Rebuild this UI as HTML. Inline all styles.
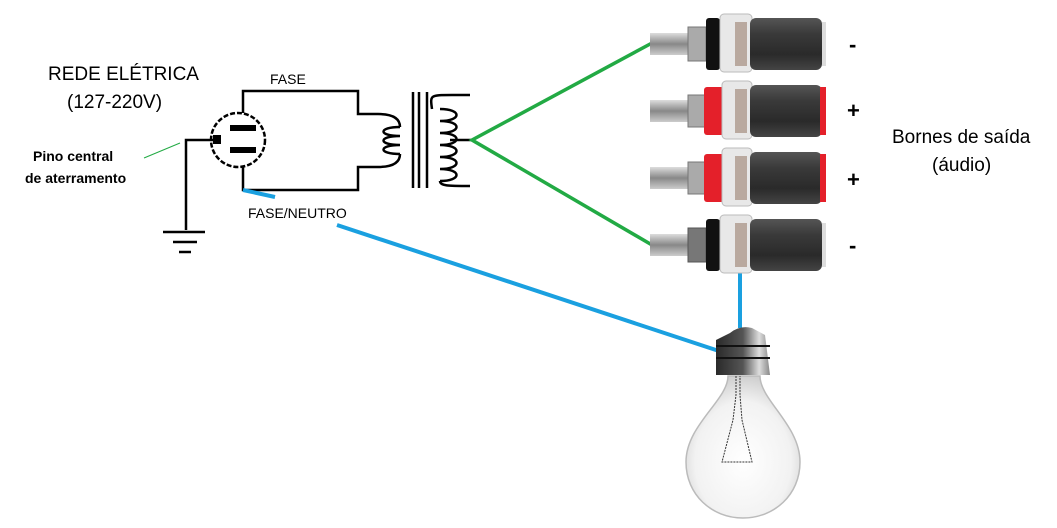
<!DOCTYPE html>
<html><head><meta charset="utf-8"><style>
html,body{margin:0;padding:0;background:#fff}
svg{display:block}
text{font-family:"Liberation Sans",sans-serif}
</style></head><body>
<svg width="1057" height="528" viewBox="0 0 1057 528" xmlns="http://www.w3.org/2000/svg">
<defs>
<linearGradient id="cap" x1="0" y1="0" x2="0" y2="1">
<stop offset="0" stop-color="#555"/><stop offset="0.3" stop-color="#3a3a3a"/><stop offset="0.7" stop-color="#2a2a2a"/><stop offset="1" stop-color="#444"/></linearGradient>
<linearGradient id="metal" x1="0" y1="0" x2="0" y2="1">
<stop offset="0" stop-color="#ddd"/><stop offset="0.5" stop-color="#888"/><stop offset="1" stop-color="#ccc"/></linearGradient>
<linearGradient id="base" x1="0" y1="0" x2="1" y2="0">
<stop offset="0" stop-color="#2a2a2a"/><stop offset="0.5" stop-color="#555"/><stop offset="0.8" stop-color="#ddd"/><stop offset="1" stop-color="#888"/></linearGradient>
<radialGradient id="glass" cx="0.5" cy="0.6" r="0.6">
<stop offset="0" stop-color="#fff"/><stop offset="0.7" stop-color="#f2f2f2"/><stop offset="1" stop-color="#cfcfcf"/></radialGradient>
</defs>

<text x="48" y="80" font-size="19" fill="#000">REDE ELÉTRICA</text>
<text x="67" y="108" font-size="19" fill="#000">(127-220V)</text>
<text x="33" y="161" font-size="14" font-weight="bold" fill="#000">Pino central</text>
<text x="25" y="183" font-size="14" font-weight="bold" fill="#000">de aterramento</text>
<line x1="144" y1="158" x2="180" y2="143" stroke="#22aa44" stroke-width="1"/>

<text x="270" y="84" font-size="14" fill="#000">FASE</text>
<text x="248" y="218" font-size="14" fill="#000">FASE/NEUTRO</text>

<g fill="none" stroke="#000" stroke-width="2.5">
<circle cx="238" cy="140" r="27" stroke-dasharray="5 2"/>
<polyline points="243,113 243,91 358,91 358,114 378,114"/>
<polyline points="243,167 243,190 358,190 358,167 378,167"/>
<polyline points="219,140 186,140 186,230"/>
<line x1="163" y1="232" x2="205" y2="232"/>
<line x1="173" y1="242" x2="197" y2="242"/>
<line x1="179" y1="252" x2="191" y2="252"/>
<line x1="413" y1="92" x2="413" y2="188"/>
<line x1="419" y1="92" x2="419" y2="188"/>
<line x1="427" y1="92" x2="427" y2="188"/>
<path d="M378,114 q22,0 22,13 M378,167 q22,0 22,-13"/>
<path d="M400,127 c-22,0 -22,9 0,9 c-22,0 -22,9 0,9 c-22,0 -22,9 0,9"/>
<path d="M470,95 l-18,0 c-22,0 -22,0 -20,14"/>
<path d="M440,109 c22,0 22,12 0,12 c22,0 22,12 0,12 c22,0 22,12 0,12 c22,0 22,12 0,12 c22,0 22,12 0,12 c22,0 22,12 0,12 M440,181 c0,5 8,5 30,5"/>
<line x1="450" y1="140" x2="472" y2="140"/>
</g>
<rect x="230" y="125" width="26" height="6" fill="#000"/>
<rect x="230" y="147" width="26" height="6" fill="#000"/>
<rect x="213" y="135" width="8" height="9" fill="#000"/>

<g stroke="#22aa44" stroke-width="3.5" fill="none">
<polyline points="652,43 472,140 652,245"/>
</g>
<g stroke="#1aa0e0" stroke-width="4" fill="none">
<line x1="243" y1="190" x2="275" y2="197"/>
<line x1="337" y1="225" x2="722" y2="352"/>
<line x1="740" y1="272" x2="740" y2="328"/>
</g>

<!-- terminals -->
<g id="t">
<rect x="650" y="33" width="40" height="22" fill="url(#metal)"/>
<rect x="688" y="27" width="18" height="34" fill="#aaa" stroke="#777"/>
<rect x="706" y="18" width="14" height="52" rx="3" fill="#111"/>
<rect x="720" y="14" width="32" height="58" rx="4" fill="#e8e8e8" stroke="#bbb"/>
<rect x="735" y="22" width="12" height="44" fill="#8a6a55" opacity="0.5"/>
<rect x="750" y="18" width="72" height="52" rx="6" fill="url(#cap)"/>
<rect x="822" y="22" width="4" height="44" fill="#ddd"/>
</g>
<g transform="translate(0,201)">
<rect x="650" y="33" width="40" height="22" fill="url(#metal)"/>
<rect x="688" y="27" width="18" height="34" fill="#777" stroke="#555"/>
<rect x="706" y="18" width="14" height="52" rx="3" fill="#111"/>
<rect x="720" y="14" width="32" height="58" rx="4" fill="#e8e8e8" stroke="#bbb"/>
<rect x="735" y="22" width="12" height="44" fill="#8a6a55" opacity="0.5"/>
<rect x="750" y="18" width="72" height="52" rx="6" fill="url(#cap)"/>
<rect x="822" y="22" width="4" height="44" fill="#ddd"/>
</g>
<g transform="translate(0,67)">
<rect x="650" y="33" width="40" height="22" fill="url(#metal)"/>
<rect x="688" y="28" width="18" height="32" fill="#aaa" stroke="#777"/>
<rect x="704" y="20" width="20" height="48" rx="3" fill="#e4202a"/>
<rect x="722" y="14" width="30" height="58" rx="4" fill="#e8e8e8" stroke="#bbb"/>
<rect x="735" y="22" width="12" height="44" fill="#8a6a55" opacity="0.5"/>
<rect x="750" y="18" width="72" height="52" rx="6" fill="url(#cap)"/>
<rect x="820" y="20" width="6" height="48" fill="#e4202a"/>
</g>
<g transform="translate(0,134)">
<rect x="650" y="33" width="40" height="22" fill="url(#metal)"/>
<rect x="688" y="28" width="18" height="32" fill="#aaa" stroke="#777"/>
<rect x="704" y="20" width="20" height="48" rx="3" fill="#e4202a"/>
<rect x="722" y="14" width="30" height="58" rx="4" fill="#e8e8e8" stroke="#bbb"/>
<rect x="735" y="22" width="12" height="44" fill="#8a6a55" opacity="0.5"/>
<rect x="750" y="18" width="72" height="52" rx="6" fill="url(#cap)"/>
<rect x="820" y="20" width="6" height="48" fill="#e4202a"/>
</g>

<text x="849" y="52" font-size="22" font-weight="bold">-</text>
<text x="847" y="118" font-size="22" font-weight="bold">+</text>
<text x="847" y="187" font-size="22" font-weight="bold">+</text>
<text x="849" y="253" font-size="22" font-weight="bold">-</text>
<text x="892" y="143" font-size="19">Bornes de saída</text>
<text x="932" y="171" font-size="19">(áudio)</text>

<!-- bulb -->
<path d="M728,376 C728,400 686,425 686,462 C686,495 712,518 743,518 C774,518 800,495 800,462 C800,425 760,400 760,376 Z" fill="url(#glass)" stroke="#bbb" stroke-width="1.5"/>
<path d="M736,376 L736,395 L733,420 L722,462 L752,462 L742,420 L740,395 L740,376" fill="none" stroke="#333" stroke-width="1" stroke-dasharray="2 1"/>
<path d="M730,333 Q740,325 752,328 L765,335 L770,375 L716,375 L716,340 Z" fill="url(#base)"/>
<line x1="716" y1="346" x2="770" y2="346" stroke="#111" stroke-width="2"/>
<line x1="716" y1="358" x2="770" y2="358" stroke="#111" stroke-width="2"/>
</svg>
</body></html>
